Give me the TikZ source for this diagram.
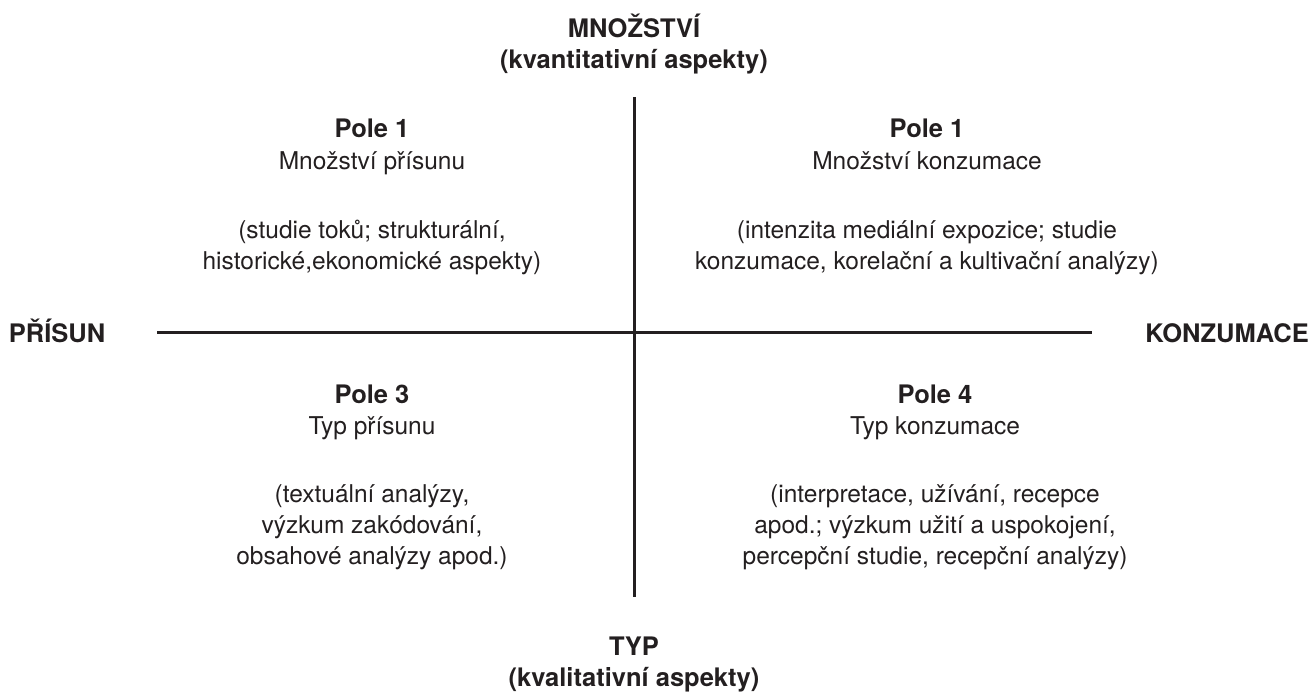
\documentclass[tikz,border=0pt]{standalone}
\usepackage{fontspec}
\setmainfont{TeX Gyre Heros}
\definecolor{ink}{RGB}{35,31,32}
\begin{document}
\begin{tikzpicture}[x=0.5pt,y=-0.5pt,
  txt/.style={text=ink,anchor=base,align=center,inner sep=0pt,
    font=\fontsize{12.25pt}{15.5pt}\selectfont},
  bold/.style={txt,font=\fontsize{12.75pt}{15.5pt}\selectfont\bfseries},
  axis/.style={draw=ink,line width=1.5pt}]
\useasboundingbox (0,0) rectangle (1309,693);
% axes
\coordinate (vtop) at (634,97);
\coordinate (vbot) at (634,597);
\coordinate (hl) at (157,332);
\coordinate (hr) at (1092,332);
\draw[axis] (vtop) -- (vbot);
\draw[axis] (hl) -- (hr);
% axis labels (base anchor = baseline of last line)
\node[bold] (mn) at (634,68) {MNOŽSTVÍ\\(kvantitativní aspekty)};
\node[bold] (typ) at (634,686) {TYP\\(kvalitativní aspekty)};
\node[bold] (pr) at (57,342) {PŘÍSUN};
\node[bold] (ko) at (1227,342) {KONZUMACE};
% quadrant 1
\node[bold] (p1t) at (372,137) {Pole 1};
\node[txt] (p1s) at (372,169) {Množství přísunu};
\node[txt] (p1d) at (372,269) {(studie toků; strukturální,\\historické,ekonomické aspekty)};
% quadrant 2
\node[bold] (p2t) at (927,137) {Pole 1};
\node[txt] (p2s) at (927,169) {Množství konzumace};
\node[txt] (p2d) at (927,269) {(intenzita mediální expozice; studie\\konzumace, korelační a kultivační analýzy)};
% quadrant 3
\node[bold] (p3t) at (372,403) {Pole 3};
\node[txt] (p3s) at (372,434) {Typ přísunu};
\node[txt] (p3d) at (372,564) {(textuální analýzy,\\výzkum zakódování,\\obsahové analýzy apod.)};
% quadrant 4
\node[bold] (p4t) at (935,403) {Pole 4};
\node[txt] (p4s) at (935,434) {Typ konzumace};
\node[txt] (p4d) at (935,564) {(interpretace, užívání, recepce\\apod.; výzkum užití a uspokojení,\\percepční studie, recepční analýzy)};
\end{tikzpicture}
\end{document}
